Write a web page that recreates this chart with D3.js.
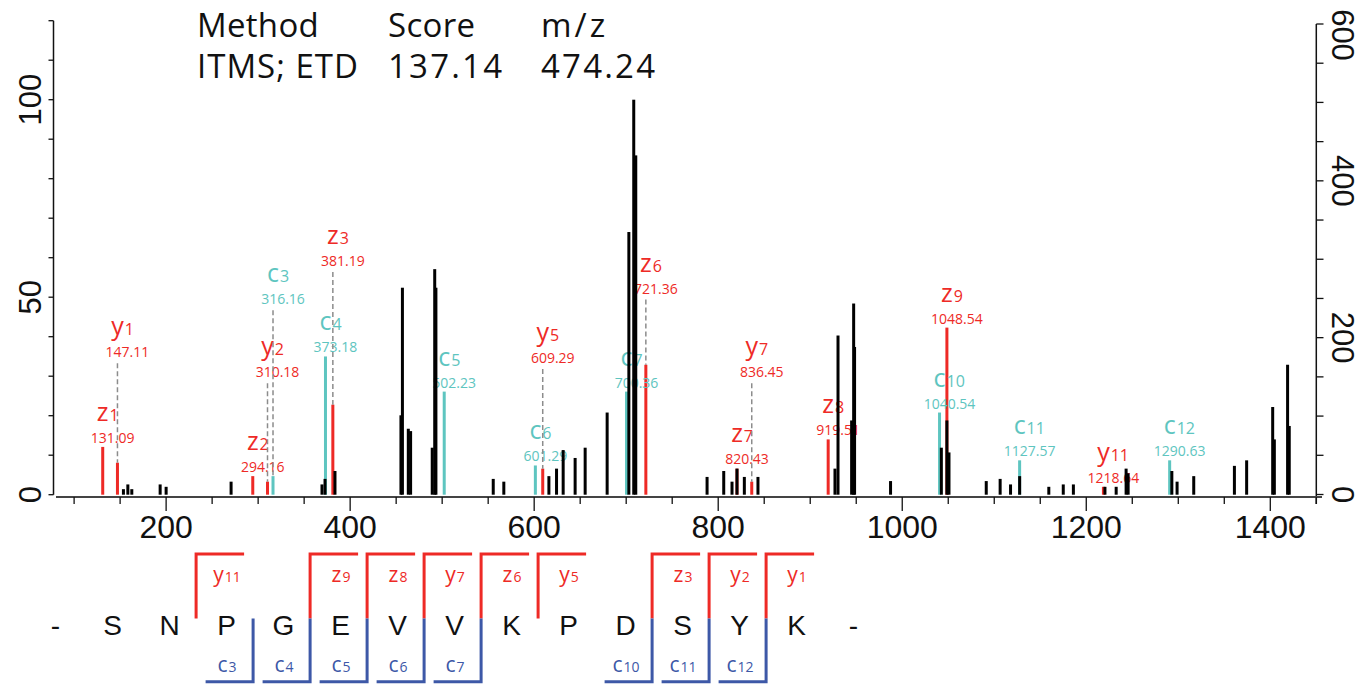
<!DOCTYPE html>
<html><head><meta charset="utf-8">
<script src="https://cdn.jsdelivr.net/npm/d3@7"></script>
<style>body{margin:0;background:#fff;} svg{display:block}</style>
</head><body>
<svg id="c" width="1365" height="684"></svg>
<script>
// ---------- data ----------
const headerCols = ["Method", "Score", "m/z"];
const headerVals = ["ITMS; ETD", "137.14", "474.24"];

// unassigned peaks (m/z, relative intensity %)
const peakMz  = [153.6,158.4,162.7,193.5,200.0,270.6,369.4,372.7,383.5,455.2,456.8,463.2,465.7,489.2,491.9,493.2,
                 555.5,567.0,616.0,624.3,631.5,644.5,655.4,679.3,702.9,708.2,710.4,787.9,806.0,815.0,820.4,828.4,843.2,
                 926.9,930.2,945.0,947.2,948.2,987.3,1042.5,1048.54,1050.8,1091.3,1106.4,1117.7,1127.6,1159.3,1175.0,1186.0,
                 1220.3,1232.5,1243.3,1245.5,1293.0,1298.7,1316.8,1361.0,1374.3,1402.6,1404.4,1418.8,1420.6];
const peakInt = [1.4,2.6,1.4,2.6,2.0,3.3,2.6,4.0,6.0,20.1,52.4,16.7,16.1,11.9,57.1,52.4,
                 4.0,3.3,4.7,6.6,11.3,9.3,11.9,20.8,66.5,100,85.9,4.5,6.0,3.3,6.6,4.5,4.5,
                 6.6,40.3,18.8,48.4,37.4,3.45,11.9,18.8,10.7,3.45,4.0,2.6,4.7,2.0,2.6,2.6,
                 2.0,2.0,6.6,5.4,6.0,3.3,4.7,7.3,8.7,22.2,14.0,32.9,17.4];

// assigned fragment ions
const ionType  = ["z","y","z","y","c","c","z","c","c","y","c","z","z","y","z","c","z","c","y","c"];
const ionNum   = [1,1,2,2,3,4,3,5,6,5,7,6,7,7,8,10,9,11,11,12];
const ionMz    = [131.09,147.11,294.16,310.18,316.16,373.18,381.19,502.23,601.29,609.29,700.36,721.36,820.43,836.45,919.51,1040.54,1048.54,1127.57,1218.64,1290.63];
const ionInt   = [12.1,8.1,4.7,3.3,4.7,35.0,22.8,26.1,7.4,6.6,26.1,32.9,6.6,3.3,14.0,20.8,42.3,8.7,2.0,8.7];
const ionLabelAt = [12.1,33.8,4.7,28.7,47.2,35.0,56.9,26.1,7.4,32.3,26.1,49.9,6.7,28.7,14.0,20.8,42.3,8.7,2.0,8.7];

// sequence and fragment map
const sequence = ["-","S","N","P","G","E","V","V","K","P","D","S","Y","K","-"];
const ctermFrags = [["y",11],["z",9],["z",8],["y",7],["z",6],["y",5],["z",3],["y",2],["y",1]];
const ntermFrags = [3,4,5,6,7,10,11,12];

const xTicksMajor = [200,400,600,800,1000,1200,1400];
const leftTickLabels = [0,50,100];
const rightTickLabels = [0,200,400,600];

// ---------- style ----------
const RED = "#ee2a26", CYAN = "#5ec5c0", BLUE = "#3d58a7", GREY = "#8c8c8c";
const LABEL_FONT = "'Open Sans', 'Noto Sans', sans-serif";
const AXIS_FONT = "'Liberation Sans', Arial, sans-serif";

const svg = d3.select("#c");
const x = d3.scaleLinear().domain([77.6, 1450]).range([53.5, 1316.3]);
const y = d3.scaleLinear().domain([0, 120]).range([494.7, 20.7]);
const yR = d3.scaleLinear().domain([0, 600]).range([494.5, 24]);
const colorOf = t => t === "c" ? CYAN : RED;

// ---------- header ----------
const hx = [197, 388, 541];
const spCols = [0.3, 0.3, 3];
const spVals = [1, 2.2, 2.2];
const hdr = svg.append("g").attr("font-family", LABEL_FONT).attr("font-size", 33).attr("fill", "#111");
headerCols.forEach((t, i) => hdr.append("text").attr("x", hx[i]).attr("y", 37).attr("letter-spacing", spCols[i]).text(t));
headerVals.forEach((t, i) => hdr.append("text").attr("x", hx[i]).attr("y", 78).attr("letter-spacing", spVals[i]).text(t));

// ---------- axes ----------
// left axis
const gl = svg.append("g");
gl.append("line").attr("x1", 53.5).attr("x2", 53.5).attr("y1", y(120)).attr("y2", y(0)).attr("stroke", "#111").attr("stroke-width", 1.5);
d3.range(0, 121, 10).forEach(v => gl.append("line").attr("x1", 48.5).attr("x2", 53.5).attr("y1", y(v)).attr("y2", y(v)).attr("stroke", "#111").attr("stroke-width", 1.3));
leftTickLabels.forEach(v => gl.append("text")
  .attr("transform", `translate(41,${y(v)}) rotate(-90)`)
  .attr("text-anchor", "middle").attr("font-family", AXIS_FONT).attr("font-size", 31).attr("fill", "#111").text(v));

// right axis
const gr = svg.append("g");
gr.append("line").attr("x1", 1316.3).attr("x2", 1316.3).attr("y1", yR(600)).attr("y2", 504).attr("stroke", "#111").attr("stroke-width", 1.5);
d3.range(0, 601, 50).forEach(v => gr.append("line").attr("x1", 1316.3).attr("x2", 1323.5).attr("y1", yR(v)).attr("y2", yR(v)).attr("stroke", "#111").attr("stroke-width", 1.3));
rightTickLabels.forEach(v => gr.append("text")
  .attr("transform", `translate(1332,${Math.max(yR(v), 35)}) rotate(90)`)
  .attr("text-anchor", "middle").attr("font-family", AXIS_FONT).attr("font-size", 31).attr("fill", "#111").text(v));

// bottom axis
const gb = svg.append("g");
gb.append("line").attr("x1", 56).attr("x2", 1322).attr("y1", 497).attr("y2", 497).attr("stroke", "#444").attr("stroke-width", 2);
d3.range(100, 1451, 50).forEach(v => {
  const major = xTicksMajor.includes(v);
  gb.append("line").attr("x1", x(v)).attr("x2", x(v)).attr("y1", 497).attr("y2", major ? 511 : 504)
    .attr("stroke", "#111").attr("stroke-width", 1.3);
});
xTicksMajor.forEach(v => gb.append("text").attr("x", x(v)).attr("y", 538).attr("text-anchor", "middle")
  .attr("font-family", AXIS_FONT).attr("font-size", 32).attr("fill", "#111").text(v));

// ---------- assigned peaks ----------
const ions = ionMz.map((m, i) => ({t: ionType[i], n: ionNum[i], mz: m, v: ionInt[i], lab: ionLabelAt[i]}));
const gIon = svg.append("g");
gIon.selectAll("rect").data(ions).join("rect")
  .attr("x", d => x(d.mz) - 1.5).attr("width", 3)
  .attr("y", d => y(d.v)).attr("height", d => y(0) - y(d.v))
  .attr("fill", d => colorOf(d.t));

// labels
const gLab = svg.append("g").attr("font-family", LABEL_FONT);
ions.forEach(d => {
  const px = x(d.mz);
  const base = y(d.lab) - 4;
  const c = colorOf(d.t);
  gLab.append("text").attr("x", px + 10).attr("y", base).attr("text-anchor", "middle")
    .attr("font-size", 14).attr("fill", c).text(d.mz.toFixed(2));
  const t = gLab.append("text").attr("y", base - 22).attr("fill", c);
  const l = t.append("tspan").attr("font-size", 25).text(d.t);
  const w = l.node().getComputedTextLength();
  t.attr("x", px - w / 2);
  t.append("tspan").attr("font-size", 16).attr("dx", 1).text(d.n);
});
// dashed leader lines
ions.filter(d => d.lab - d.v > 3).forEach(d => {
  gLab.append("line").attr("x1", x(d.mz)).attr("x2", x(d.mz))
    .attr("y1", y(d.lab) + 2).attr("y2", y(d.v))
    .attr("stroke", GREY).attr("stroke-width", 1.5).attr("stroke-dasharray", "5,3");
});

// ---------- unassigned peaks (drawn on top) ----------
const peaks = peakMz.map((m, i) => ({mz: m, v: peakInt[i]}));
svg.append("g").selectAll("rect").data(peaks).join("rect")
  .attr("x", d => x(d.mz) - 1.5).attr("width", 3)
  .attr("y", d => y(d.v)).attr("height", d => y(0) - y(d.v))
  .attr("fill", "#000");

// ---------- sequence map ----------
const xs = d3.scalePoint().domain(d3.range(sequence.length)).range([55.5, 853.5]);
const gs = svg.append("g");
sequence.forEach((s, k) => gs.append("text").attr("x", xs(k)).attr("y", 635).attr("text-anchor", "middle")
  .attr("font-family", AXIS_FONT).attr("font-size", 28).attr("fill", "#111").text(s));

const nRes = sequence.length - 2;
function fragLabel(g, cx, yb, t, n, col) {
  const tx = g.append("text").attr("y", yb).attr("fill", col).attr("font-family", LABEL_FONT);
  tx.append("tspan").attr("font-size", 21).text(t);
  tx.append("tspan").attr("font-size", 14).attr("dx", 1).text(n);
  const w = tx.node().getComputedTextLength();
  tx.attr("x", cx - w / 2);
}
ctermFrags.forEach(([t, n]) => {
  const left = nRes - n;           // residue index left of cut
  const vx = xs(left) + 26.6;
  gs.append("path").attr("d", `M${vx},618.5 V554 H${vx + 48}`)
    .attr("fill", "none").attr("stroke", RED).attr("stroke-width", 3);
  fragLabel(gs, xs(left + 1), 581.7, t, n, RED);
});
ntermFrags.forEach(n => {
  const vx = xs(n) + 26.6;
  gs.append("path").attr("d", `M${vx},618.5 V681.7 H${vx - 47.5}`)
    .attr("fill", "none").attr("stroke", BLUE).attr("stroke-width", 3);
  fragLabel(gs, xs(n), 671.7, "c", n, BLUE);
});
</script>
</body></html>
